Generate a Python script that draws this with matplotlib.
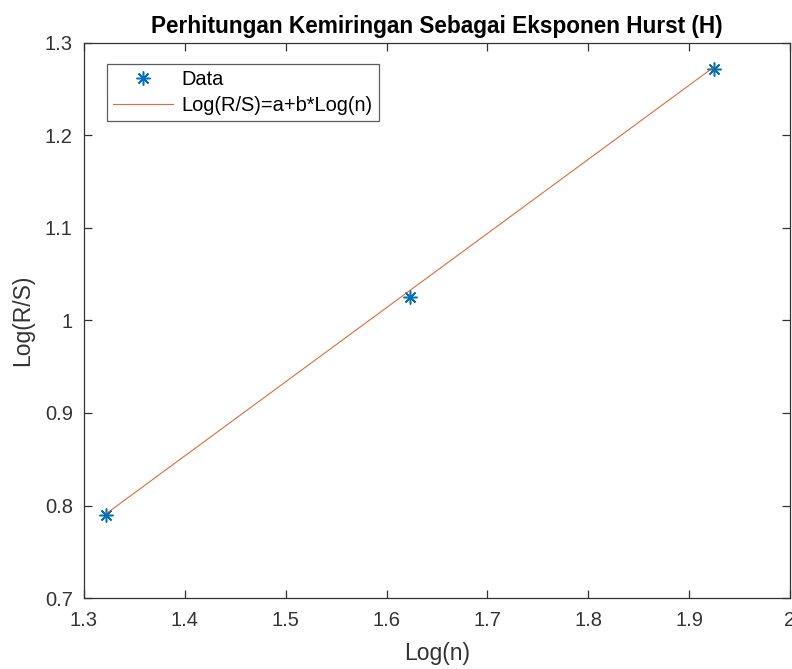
import numpy as np
import matplotlib
matplotlib.use("Agg")
import matplotlib.pyplot as plt

plt.rcParams['font.family'] = ['Liberation Sans', 'DejaVu Sans']

# log10 of block sizes n = 21, 42, 84 and the measured log(R/S)
log_n = [1.3222, 1.6232, 1.9243]
log_rs = [0.790, 1.025, 1.272]

# fitted line Log(R/S) = a + b*Log(n)
fit_a = -0.2679
fit_b = 0.8011

xticks = [1.3, 1.4, 1.5, 1.6, 1.7, 1.8, 1.9, 2]
yticks = [0.7, 0.8, 0.9, 1.0, 1.1, 1.2, 1.3]

blue = (0, 0.447, 0.741)
orange = (0.85, 0.325, 0.098)
axcol = '#333333'

fig = plt.figure(figsize=(7.92, 6.69), dpi=100)
ax = fig.add_axes([0.106, 0.106, 0.8915, 0.830])

# asterisk marker: '+' and 'x' overlaid
ast = (8, 2, 0)
ax.plot(log_n, log_rs, linestyle='none', marker=ast, color=blue,
        markersize=10, markeredgewidth=1.1, label='Data')
xfit = np.array([log_n[0], log_n[-1]])
ax.plot(xfit, fit_a + fit_b * xfit, '-', color=orange, lw=0.8, alpha=0.85,
        label='Log(R/S)=a+b*Log(n)')

ax.set_xlim(1.3, 2)
ax.set_ylim(0.7, 1.3)
ax.set_xticks(xticks)
ax.set_xticklabels(['1.3', '1.4', '1.5', '1.6', '1.7', '1.8', '1.9', '2'])
ax.set_yticks(yticks)
ax.set_yticklabels(['0.7', '0.8', '0.9', '1', '1.1', '1.2', '1.3'])
ax.tick_params(direction='in', top=True, right=True, length=6, width=0.9,
               labelsize=14.5, colors=axcol)
ax.tick_params(axis='x', pad=9)
ax.tick_params(axis='y', pad=8)
for s in ax.spines.values():
    s.set_linewidth(0.9)
    s.set_color(axcol)

ax.set_xlabel('Log(n)', fontsize=16.5, color=axcol, labelpad=9)
ax.set_ylabel('Log(R/S)', fontsize=16.5, color=axcol, labelpad=8)
ax.set_title('Perhitungan Kemiringan Sebagai Eksponen Hurst (H)',
             fontsize=16.3, fontweight='bold', color='black', pad=7)

leg = ax.legend(loc='upper left', bbox_to_anchor=(0.032, 0.962), fontsize=14.4,
                frameon=True, fancybox=False, edgecolor=axcol,
                borderpad=0.3, labelspacing=0.35, handlelength=3.0,
                handletextpad=0.45, borderaxespad=0)
leg.get_frame().set_linewidth(0.9)

fig.savefig('out.png', dpi=100)
